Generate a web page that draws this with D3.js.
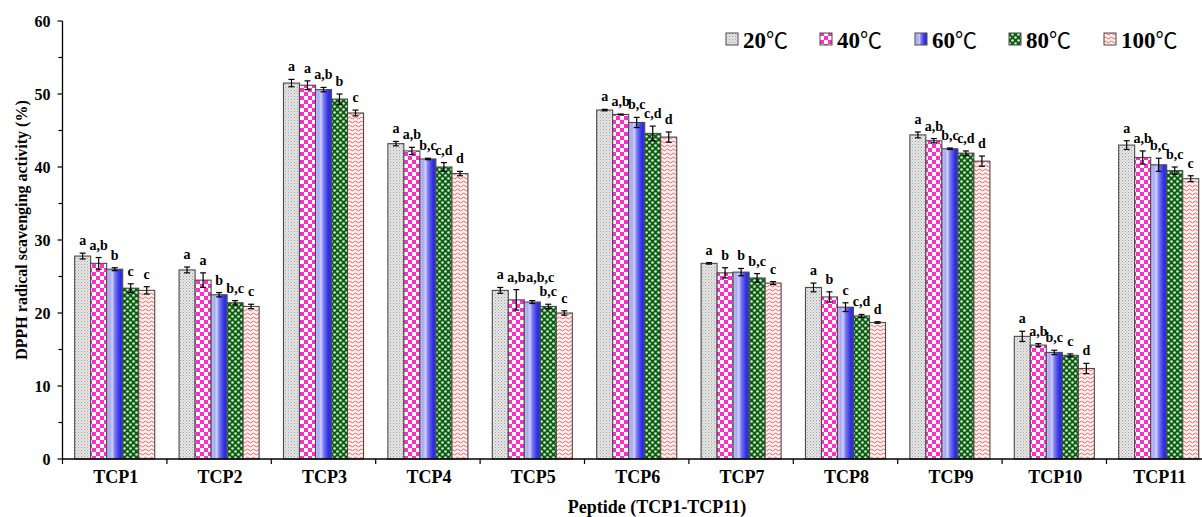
<!DOCTYPE html>
<html>
<head>
<meta charset="utf-8">
<script src="https://cdn.jsdelivr.net/npm/d3@7"></script>
<style>
  html, body { margin: 0; padding: 0; background: #fff; }
  svg { display: block; }
  text { font-family: "Liberation Serif", "Times New Roman", serif; font-weight: bold; fill: #000; }
  .deg { font-family: "Noto Sans CJK SC", "Noto Sans", sans-serif; font-weight: normal; }
</style>
</head>
<body>
<svg id="chart" width="1202" height="517"></svg>
<script>
// Peptides and heating temperatures
const categories = ["TCP1","TCP2","TCP3","TCP4","TCP5","TCP6","TCP7","TCP8","TCP9","TCP10","TCP11"];
const temps = ["20℃","40℃","60℃","80℃","100℃"];

// Mean DPPH scavenging activity (%) per temperature
const t20  = [27.8, 25.9, 51.5, 43.2, 23.1, 47.8, 26.8, 23.5, 44.4, 16.8, 43.0];
const t40  = [26.8, 24.5, 51.2, 42.2, 21.8, 47.2, 25.5, 22.2, 43.6, 15.6, 41.3];
const t60  = [26.0, 22.5, 50.6, 41.1, 21.5, 46.1, 25.6, 20.8, 42.5, 14.6, 40.3];
const t80  = [23.4, 21.4, 49.3, 40.0, 20.9, 44.6, 24.8, 19.6, 41.9, 14.2, 39.5];
const t100 = [23.1, 20.9, 47.4, 39.1, 20.0, 44.1, 24.1, 18.7, 40.8, 12.4, 38.4];

// Standard deviations
const e20  = [0.4, 0.4, 0.5, 0.3, 0.4, 0.1, 0.1, 0.6, 0.4, 0.7, 0.6];
const e40  = [0.8, 1.0, 0.6, 0.5, 1.4, 0.05, 0.7, 0.7, 0.3, 0.2, 0.9];
const e60  = [0.2, 0.3, 0.3, 0.1, 0.2, 0.7, 0.5, 0.6, 0.1, 0.3, 0.9];
const e80  = [0.6, 0.3, 0.7, 0.6, 0.3, 1.0, 0.6, 0.2, 0.3, 0.2, 0.5];
const e100 = [0.5, 0.3, 0.4, 0.3, 0.3, 0.7, 0.2, 0.1, 0.7, 0.7, 0.4];

// Significance letters
const l20  = ["a","a","a","a","a","a","a","a","a","a","a"];
const l40  = ["a,b","a","a","a,b","a,b","a,b","b","b","a,b","a,b","a,b"];
const l60  = ["b","b","a,b","b,c","a,b,c","b,c","b","c","b,c","b,c","b,c"];
const l80  = ["c","b,c","b","c,d","b,c","c,d","b,c","c,d","c,d","c","b,c"];
const l100 = ["c","c","c","d","c","d","c","d","d","d","c"];

const yTicks = [0, 10, 20, 30, 40, 50, 60];

const means = [t20, t40, t60, t80, t100];
const errs = [e20, e40, e60, e80, e100];
const letters = [l20, l40, l60, l80, l100];

const rows = [];
categories.forEach((c, i) => {
  temps.forEach((t, j) => {
    rows.push({ cat: c, temp: t, j, v: means[j][i], e: errs[j][i], lab: letters[j][i] });
  });
});

const svg = d3.select("#chart");
const plotLeft = 62.5, plotBottom = 459, plotTop = 21;
const step = 104.4;

const x0 = d3.scaleBand().domain(categories).range([plotLeft, plotLeft + step * categories.length]).padding(0);
const x1 = d3.scaleBand().domain(temps).range([0, x0.bandwidth()]).paddingInner(0).paddingOuter(0.76);
const y = d3.scaleLinear().domain([0, 60]).range([plotBottom, plotTop]);

// Fill patterns
const defs = svg.append("defs");

// 20: light grey stipple
const p20 = defs.append("pattern").attr("id", "p0").attr("patternUnits", "userSpaceOnUse").attr("width", 3).attr("height", 3);
p20.append("rect").attr("width", 3).attr("height", 3).attr("fill", "#e6e6e6");
p20.append("rect").attr("x", 0).attr("y", 0).attr("width", 1).attr("height", 1).attr("fill", "#a0a0a0");
p20.append("rect").attr("x", 1.5).attr("y", 1.5).attr("width", 1).attr("height", 1).attr("fill", "#b8b8b8");

// 40: magenta checkerboard
const p40 = defs.append("pattern").attr("id", "p1").attr("patternUnits", "userSpaceOnUse").attr("width", 8).attr("height", 8);
p40.append("rect").attr("width", 8).attr("height", 8).attr("fill", "#ff2ec8");
p40.append("rect").attr("x", 0).attr("y", 0).attr("width", 4).attr("height", 4).attr("fill", "#ffffff");
p40.append("rect").attr("x", 4).attr("y", 4).attr("width", 4).attr("height", 4).attr("fill", "#ffffff");

// 60: blue shaded column
const g60 = defs.append("linearGradient").attr("id", "p2").attr("x1", "0").attr("x2", "1").attr("y1", "0").attr("y2", "0");
[[0, "#c4c4f6"], [0.2, "#a8a8f4"], [0.35, "#d0d0fa"], [0.5, "#7e7ef0"], [0.7, "#4848ea"], [0.85, "#2a2ae0"], [1, "#3a3ae6"]]
  .forEach(([o, c]) => g60.append("stop").attr("offset", o).attr("stop-color", c));

// 80: dark green with light dots
const p80 = defs.append("pattern").attr("id", "p3").attr("patternUnits", "userSpaceOnUse").attr("width", 6).attr("height", 6);
p80.append("rect").attr("width", 6).attr("height", 6).attr("fill", "#0b5e12");
p80.append("circle").attr("cx", 1.5).attr("cy", 1.5).attr("r", 1.3).attr("fill", "#d6ecd4");
p80.append("circle").attr("cx", 4.5).attr("cy", 4.5).attr("r", 1.3).attr("fill", "#d6ecd4");

// 100: red waves on white
const p100 = defs.append("pattern").attr("id", "p4").attr("patternUnits", "userSpaceOnUse").attr("width", 6).attr("height", 4);
p100.append("rect").attr("width", 6).attr("height", 4).attr("fill", "#fff4f4");
p100.append("path").attr("d", "M0 2 Q1.5 0.3 3 2 T6 2").attr("fill", "none").attr("stroke", "#ff4848").attr("stroke-width", 0.9);

const fillFor = j => `url(#p${j})`;

// Bars
svg.append("g").selectAll("rect").data(rows).join("rect")
  .attr("x", d => x0(d.cat) + x1(d.temp))
  .attr("y", d => y(d.v))
  .attr("width", x1.bandwidth())
  .attr("height", d => y(0) - y(d.v))
  .attr("fill", d => fillFor(d.j))
  .attr("stroke", "#4a4a4a")
  .attr("stroke-width", 1.1);

// Error bars
const eb = svg.append("g").attr("stroke", "#000").attr("stroke-width", 1.2);
rows.forEach(d => {
  const cx = x0(d.cat) + x1(d.temp) + x1.bandwidth() / 2;
  const y1 = y(d.v + d.e), y2 = y(d.v - d.e);
  eb.append("line").attr("x1", cx).attr("x2", cx).attr("y1", y1).attr("y2", y2);
  eb.append("line").attr("x1", cx - 3).attr("x2", cx + 3).attr("y1", y1).attr("y2", y1);
  eb.append("line").attr("x1", cx - 3).attr("x2", cx + 3).attr("y1", y2).attr("y2", y2);
});

// Significance letters above the error bars
const labG = svg.append("g");
categories.forEach(c => {
  const group = rows.filter(d => d.cat === c).map(d => {
    const node = labG.append("text")
      .attr("text-anchor", "middle")
      .attr("font-size", 14)
      .text(d.lab);
    return {
      node,
      x: x0(d.cat) + x1(d.temp) + x1.bandwidth() / 2,
      b: y(d.v + d.e) - 8,
      w: node.node().getComputedTextLength()
    };
  });
  // a wide label that runs into the one on its right is lifted over it and eased rightwards
  for (let k = group.length - 2; k >= 0; k--) {
    const a = group[k], r = group[k + 1];
    const hOverlap = Math.min(a.x + a.w / 2, r.x + r.w / 2) - Math.max(a.x - a.w / 2, r.x - r.w / 2);
    if (hOverlap > 3 && Math.abs(a.b - r.b) < 10) {
      a.b = r.b - 14;
      a.x += Math.max(0, (a.w - x1.bandwidth()) / 2 + 2);
    }
  }
  group.forEach(g => g.node.attr("x", g.x).attr("y", g.b));
});

// Y axis
const yAxis = svg.append("g");
yAxis.append("line").attr("x1", plotLeft).attr("x2", plotLeft).attr("y1", plotTop).attr("y2", plotBottom).attr("stroke", "#000").attr("stroke-width", 1.3);
d3.range(0, 61, 5).forEach(v => {
  const major = v % 10 === 0;
  yAxis.append("line").attr("x1", plotLeft - (major ? 5 : 4)).attr("x2", plotLeft).attr("y1", y(v)).attr("y2", y(v))
    .attr("stroke", "#000").attr("stroke-width", 1.2);
});
yAxis.selectAll("text").data(yTicks).join("text")
  .attr("x", plotLeft - 12).attr("y", d => y(d) + 5.5)
  .attr("text-anchor", "end").attr("font-size", 16)
  .text(d => d);

// X axis
const xAxis = svg.append("g");
xAxis.append("line").attr("x1", plotLeft).attr("x2", 1202).attr("y1", plotBottom).attr("y2", plotBottom).attr("stroke", "#000").attr("stroke-width", 1.3);
categories.forEach(c => {
  const bx = x0(c);
  xAxis.append("line").attr("x1", bx).attr("x2", bx).attr("y1", plotBottom).attr("y2", plotBottom + 5).attr("stroke", "#000").attr("stroke-width", 1.2);
});
xAxis.selectAll("text").data(categories).join("text")
  .attr("x", d => x0(d) + x0.bandwidth() / 2 + 1)
  .attr("y", 483)
  .attr("text-anchor", "middle").attr("font-size", 18)
  .text(d => d);

// Axis titles
svg.append("text")
  .attr("x", 657).attr("y", 513)
  .attr("text-anchor", "middle").attr("font-size", 18)
  .text("Peptide (TCP1-TCP11)");
svg.append("text")
  .attr("transform", `translate(27, 230) rotate(-90)`)
  .attr("text-anchor", "middle").attr("font-size", 16)
  .text("DPPH radical scavenging activity (%)");

// Legend
const legendX = [726, 820, 915, 1009, 1104];
const lg = svg.append("g");
temps.forEach((t, j) => {
  lg.append("rect").attr("x", legendX[j]).attr("y", 33).attr("width", 12).attr("height", 12)
    .attr("fill", fillFor(j)).attr("stroke", "#4a4a4a").attr("stroke-width", 1);
  const tx = lg.append("text").attr("x", legendX[j] + 17).attr("y", 48).attr("font-size", 23);
  tx.append("tspan").text(t.replace("℃", ""));
  tx.append("tspan").attr("class", "deg").attr("font-size", 22).text("℃");
});
</script>
</body>
</html>
